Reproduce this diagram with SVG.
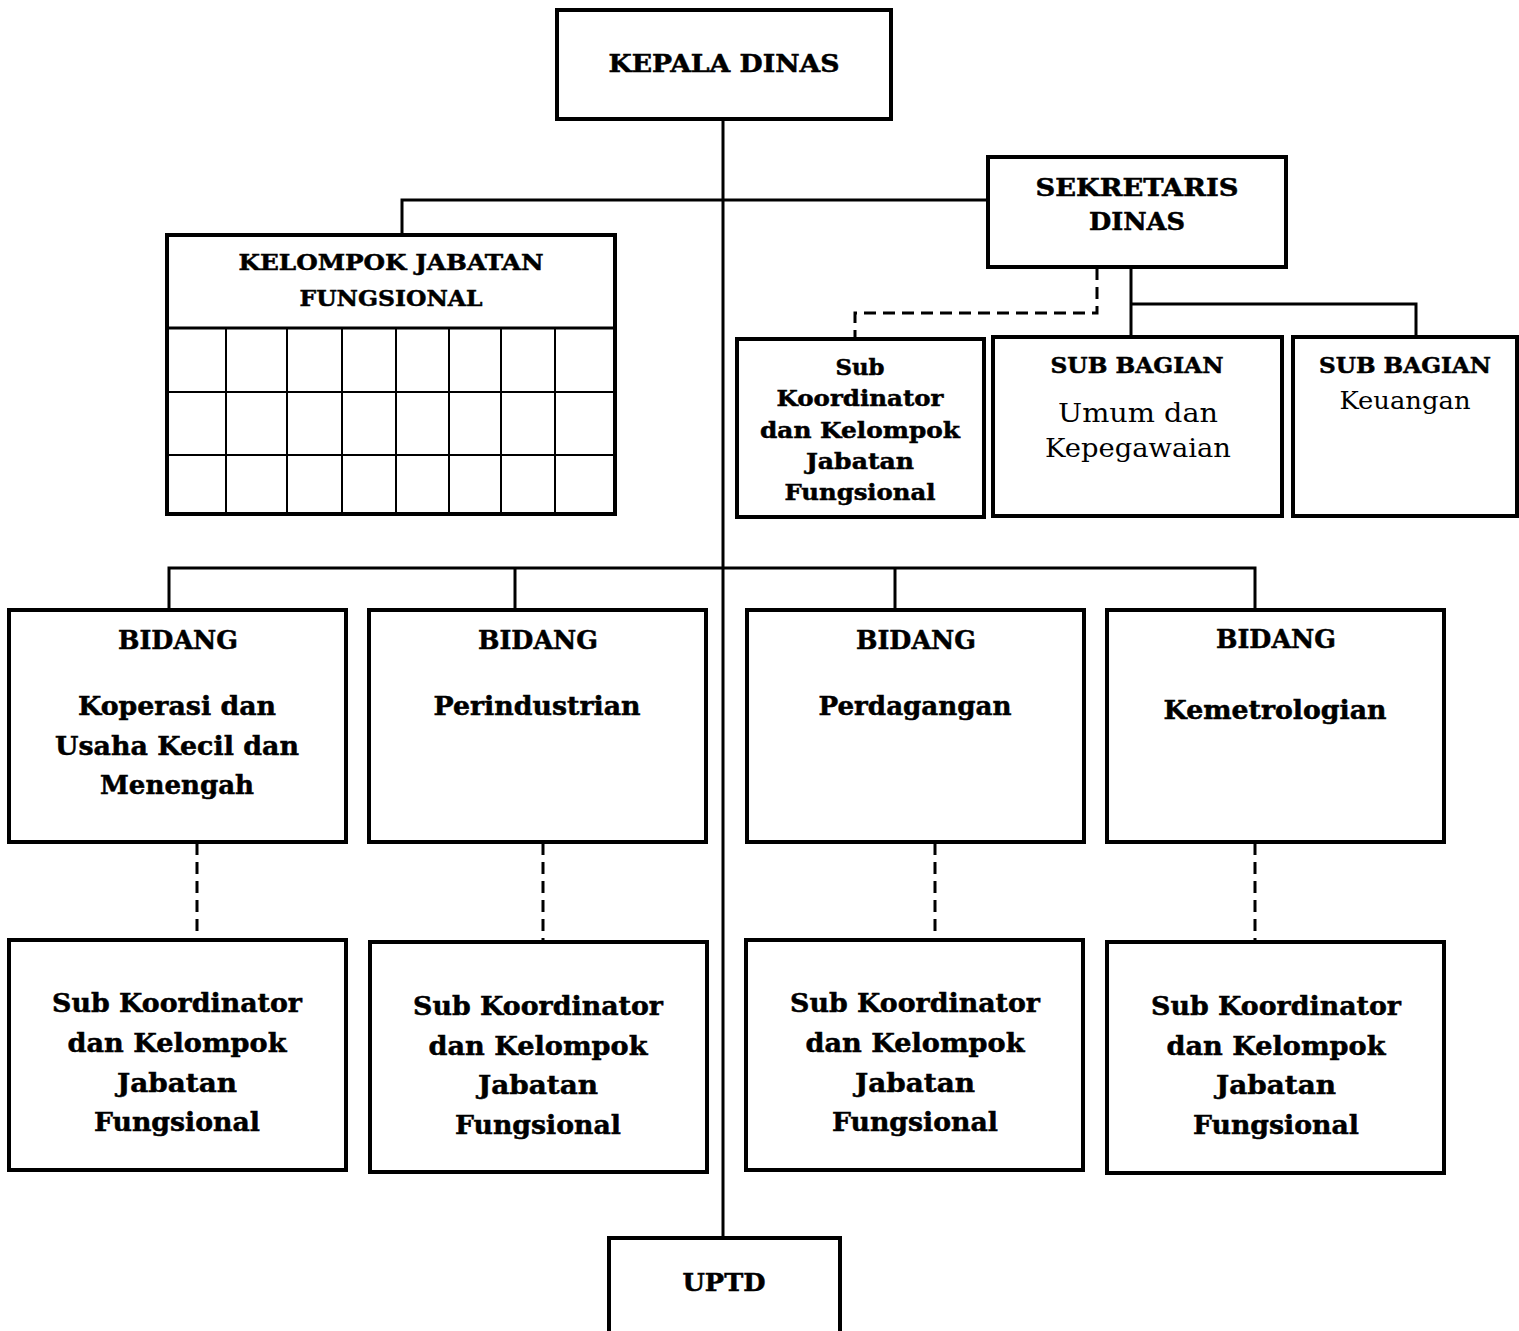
<svg xmlns="http://www.w3.org/2000/svg" width="1519" height="1331" viewBox="0 0 1519 1331">
<style>
.box{fill:#fff;stroke:#000;stroke-width:4}
.ln{fill:none;stroke:#000;stroke-width:3}
.dash{fill:none;stroke:#000;stroke-width:3;stroke-dasharray:12,7}
.grid{fill:none;stroke:#000;stroke-width:2}
text{font-family:"DejaVu Serif","Liberation Serif",serif;text-anchor:middle;fill:#000}
.b{font-weight:bold;stroke:#000;stroke-width:0.5}
.r{font-weight:normal}
</style>
<rect width="1519" height="1331" fill="#fff"/>
<g id="connectors">
<line class="ln" x1="723" y1="119" x2="723" y2="1238"/>
<polyline class="ln" points="402,235 402,200 988,200"/>
<polyline class="dash" points="1097,268 1097,313 855,313 855,339"/>
<polyline class="ln" points="1131,268 1131,337"/>
<polyline class="ln" points="1131,304 1416,304 1416,337"/>
<polyline class="ln" points="169,610 169,568 1255,568 1255,610"/>
<line class="ln" x1="515" y1="568" x2="515" y2="610"/>
<line class="ln" x1="895" y1="568" x2="895" y2="610"/>
<line class="dash" x1="197" y1="843" x2="197" y2="940"/>
<line class="dash" x1="543" y1="843" x2="543" y2="942"/>
<line class="dash" x1="935" y1="843" x2="935" y2="940"/>
<line class="dash" x1="1255" y1="843" x2="1255" y2="942"/>
</g>
<g id="kepala">
<rect class="box" x="557" y="10" width="334" height="109"/>
<text class="b" x="724" y="72" font-size="24" textLength="231" lengthAdjust="spacingAndGlyphs">KEPALA DINAS</text>
</g>
<g id="kelompok">
<rect class="box" x="167" y="235" width="448" height="279"/>
<line class="ln" x1="167" y1="328" x2="615" y2="328"/>
<path class="grid" d="M167,392H615M167,455H615M226,328V514M287,328V514M342,328V514M396,328V514M449,328V514M501,328V514M555,328V514"/>
<text class="b" x="391" y="270" font-size="22" textLength="305" lengthAdjust="spacingAndGlyphs">KELOMPOK JABATAN</text>
<text class="b" x="391" y="306" font-size="22" textLength="183" lengthAdjust="spacingAndGlyphs">FUNGSIONAL</text>
</g>
<g id="sekretaris">
<rect class="box" x="988" y="157" width="298" height="110"/>
<text class="b" x="1137" y="196" font-size="24" textLength="203" lengthAdjust="spacingAndGlyphs">SEKRETARIS</text>
<text class="b" x="1137" y="230" font-size="24" textLength="96" lengthAdjust="spacingAndGlyphs">DINAS</text>
</g>
<g id="subkoor-sek">
<rect class="box" x="737" y="339" width="247" height="178"/>
<text class="b" x="860" y="375" font-size="22" textLength="49" lengthAdjust="spacingAndGlyphs">Sub</text>
<text class="b" x="860" y="406" font-size="22" textLength="167" lengthAdjust="spacingAndGlyphs">Koordinator</text>
<text class="b" x="860" y="438" font-size="22" textLength="200" lengthAdjust="spacingAndGlyphs">dan Kelompok</text>
<text class="b" x="860" y="469" font-size="22" textLength="108" lengthAdjust="spacingAndGlyphs">Jabatan</text>
<text class="b" x="860" y="500" font-size="22" textLength="151" lengthAdjust="spacingAndGlyphs">Fungsional</text>
</g>
<g id="subbag-umum">
<rect class="box" x="993" y="337" width="289" height="179"/>
<text class="b" x="1137" y="373" font-size="22" textLength="173" lengthAdjust="spacingAndGlyphs">SUB BAGIAN</text>
<text class="r" x="1138" y="422" font-size="26" textLength="160" lengthAdjust="spacingAndGlyphs">Umum dan</text>
<text class="r" x="1138" y="457" font-size="26" textLength="186" lengthAdjust="spacingAndGlyphs">Kepegawaian</text>
</g>
<g id="subbag-keu">
<rect class="box" x="1293" y="337" width="224" height="179"/>
<text class="b" x="1405" y="373" font-size="22" textLength="172" lengthAdjust="spacingAndGlyphs">SUB BAGIAN</text>
<text class="r" x="1405" y="409" font-size="24" textLength="131" lengthAdjust="spacingAndGlyphs">Keuangan</text>
</g>
<g id="bidang-kukm">
<rect class="box" x="9" y="610" width="337" height="232"/>
<text class="b" x="178" y="649" font-size="26" textLength="120" lengthAdjust="spacingAndGlyphs">BIDANG</text>
<text class="b" x="177" y="715" font-size="26" textLength="198" lengthAdjust="spacingAndGlyphs">Koperasi dan</text>
<text class="b" x="177" y="755" font-size="26" textLength="244" lengthAdjust="spacingAndGlyphs">Usaha Kecil dan</text>
<text class="b" x="177" y="794" font-size="26" textLength="154" lengthAdjust="spacingAndGlyphs">Menengah</text>
</g>
<g id="bidang-perindustrian">
<rect class="box" x="369" y="610" width="337" height="232"/>
<text class="b" x="538" y="649" font-size="26" textLength="120" lengthAdjust="spacingAndGlyphs">BIDANG</text>
<text class="b" x="537" y="715" font-size="26" textLength="207" lengthAdjust="spacingAndGlyphs">Perindustrian</text>
</g>
<g id="bidang-perdagangan">
<rect class="box" x="747" y="610" width="337" height="232"/>
<text class="b" x="916" y="649" font-size="26" textLength="120" lengthAdjust="spacingAndGlyphs">BIDANG</text>
<text class="b" x="915" y="715" font-size="26" textLength="193" lengthAdjust="spacingAndGlyphs">Perdagangan</text>
</g>
<g id="bidang-kemetrologian">
<rect class="box" x="1107" y="610" width="337" height="232"/>
<text class="b" x="1276" y="648" font-size="26" textLength="120" lengthAdjust="spacingAndGlyphs">BIDANG</text>
<text class="b" x="1275" y="719" font-size="26" textLength="223" lengthAdjust="spacingAndGlyphs">Kemetrologian</text>
</g>
<g id="subkoor-1">
<rect class="box" x="9" y="940" width="337" height="230"/>
<text class="b" x="177" y="1012" font-size="26" textLength="250" lengthAdjust="spacingAndGlyphs">Sub Koordinator</text>
<text class="b" x="177" y="1052" font-size="26" textLength="219" lengthAdjust="spacingAndGlyphs">dan Kelompok</text>
<text class="b" x="177" y="1092" font-size="26" textLength="120" lengthAdjust="spacingAndGlyphs">Jabatan</text>
<text class="b" x="177" y="1131" font-size="26" textLength="166" lengthAdjust="spacingAndGlyphs">Fungsional</text>
</g>
<g id="subkoor-2">
<rect class="box" x="370" y="942" width="337" height="230"/>
<text class="b" x="538" y="1015" font-size="26" textLength="250" lengthAdjust="spacingAndGlyphs">Sub Koordinator</text>
<text class="b" x="538" y="1055" font-size="26" textLength="219" lengthAdjust="spacingAndGlyphs">dan Kelompok</text>
<text class="b" x="538" y="1094" font-size="26" textLength="120" lengthAdjust="spacingAndGlyphs">Jabatan</text>
<text class="b" x="538" y="1134" font-size="26" textLength="166" lengthAdjust="spacingAndGlyphs">Fungsional</text>
</g>
<g id="subkoor-3">
<rect class="box" x="746" y="940" width="337" height="230"/>
<text class="b" x="915" y="1012" font-size="26" textLength="250" lengthAdjust="spacingAndGlyphs">Sub Koordinator</text>
<text class="b" x="915" y="1052" font-size="26" textLength="219" lengthAdjust="spacingAndGlyphs">dan Kelompok</text>
<text class="b" x="915" y="1092" font-size="26" textLength="120" lengthAdjust="spacingAndGlyphs">Jabatan</text>
<text class="b" x="915" y="1131" font-size="26" textLength="166" lengthAdjust="spacingAndGlyphs">Fungsional</text>
</g>
<g id="subkoor-4">
<rect class="box" x="1107" y="942" width="337" height="231"/>
<text class="b" x="1276" y="1015" font-size="26" textLength="250" lengthAdjust="spacingAndGlyphs">Sub Koordinator</text>
<text class="b" x="1276" y="1055" font-size="26" textLength="219" lengthAdjust="spacingAndGlyphs">dan Kelompok</text>
<text class="b" x="1276" y="1094" font-size="26" textLength="120" lengthAdjust="spacingAndGlyphs">Jabatan</text>
<text class="b" x="1276" y="1134" font-size="26" textLength="166" lengthAdjust="spacingAndGlyphs">Fungsional</text>
</g>
<g id="uptd">
<rect class="box" x="609" y="1238" width="231" height="110"/>
<text class="b" x="724" y="1291" font-size="24" textLength="83" lengthAdjust="spacingAndGlyphs">UPTD</text>
</g>
</svg>
